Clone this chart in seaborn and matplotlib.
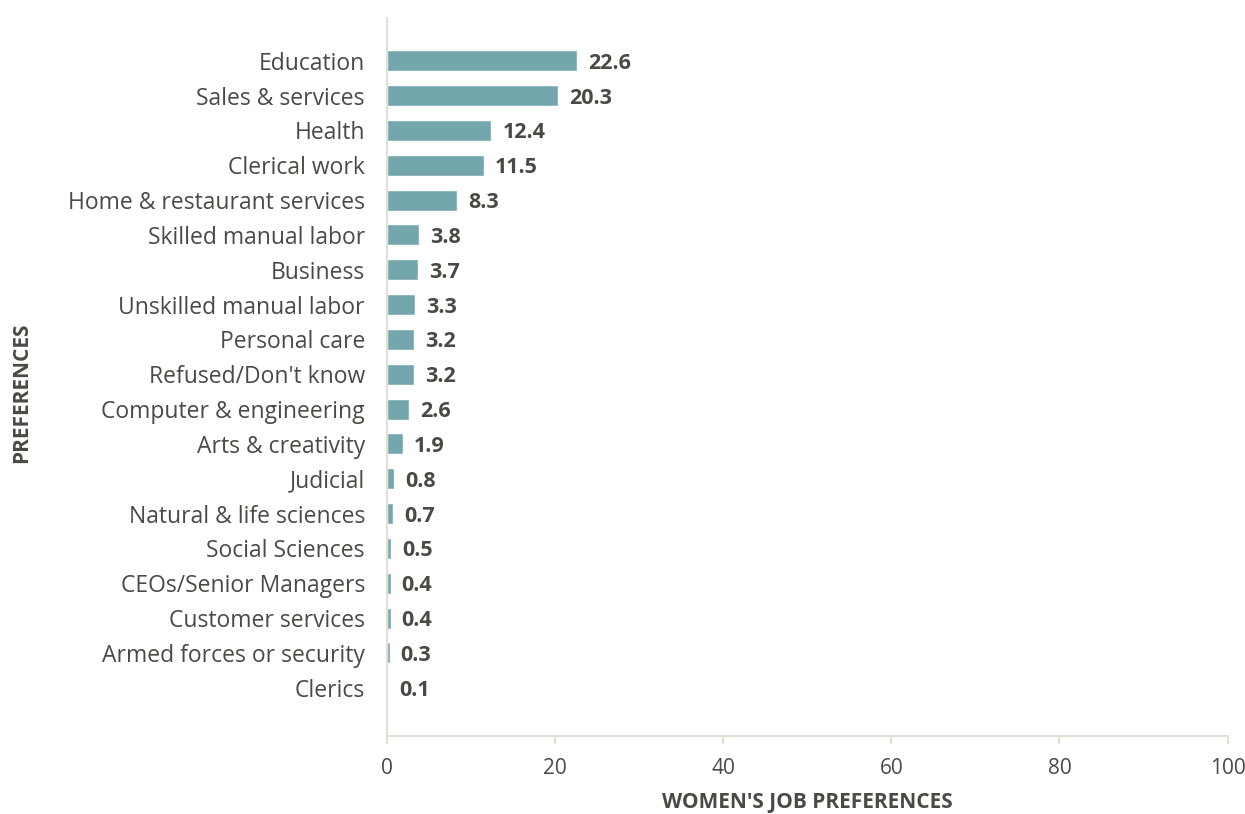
import pandas as pd
import numpy as np
from matplotlib import pyplot as plt
import seaborn as sns

categories = ['Education', 'Sales & services', 'Health', 'Clerical work',
              'Home & restaurant services', 'Skilled manual labor', 'Business',
              'Unskilled manual labor', 'Personal care', "Refused/Don't know",
              'Computer & engineering', 'Arts & creativity', 'Judicial',
              'Natural & life sciences', 'Social Sciences', 'CEOs/Senior Managers',
              'Customer services', 'Armed forces or security', 'Clerics']
values = [22.6, 20.3, 12.4, 11.5, 8.3, 3.8, 3.7, 3.3, 3.2, 3.2,
          2.6, 1.9, 0.8, 0.7, 0.5, 0.4, 0.4, 0.3, 0.1]

df = pd.DataFrame({'cat': categories, 'val': values})

sns.set_style('white')
plt.rcParams['font.family'] = ['Open Sans', 'DejaVu Sans']

fig = plt.figure(figsize=(12.45, 8.14), dpi=100)
ax = fig.add_axes([0.311, 0.096, 0.675, 0.882])

sns.barplot(data=df, x='val', y='cat', color='#74a6ae', saturation=1,
            width=0.6, ax=ax)

txt = '#4a4a45'
for i, v in enumerate(values):
    ax.text(v + 1.3, i, f'{v}', va='center_baseline', ha='left', fontsize=15.5,
            fontweight='bold', color=txt)

ax.set_xlim(0, 100)
ax.set_ylim(len(categories) - 1 + 1.38, -1.23)
ax.set_xticks([0, 20, 40, 60, 80, 100])

spine_c = '#e4dfd3'
for s in ['top', 'right']:
    ax.spines[s].set_visible(False)
for s in ['left', 'bottom']:
    ax.spines[s].set_color(spine_c)
    ax.spines[s].set_linewidth(1.5)

ax.tick_params(axis='y', length=0, labelsize=16.5, labelcolor=txt, pad=16)
ax.tick_params(axis='x', length=6, width=1.5, color=spine_c, labelsize=15,
               labelcolor=txt, pad=10, direction='out', bottom=True)

ax.set_xlabel("WOMEN'S JOB PREFERENCES", fontsize=15, fontweight='bold',
              color=txt, labelpad=9)
ax.set_ylabel('PREFERENCES', fontsize=15, fontweight='bold', color=txt)
ax.yaxis.set_label_coords(-0.423, 0.478)

fig.savefig('out.png', dpi=100)
